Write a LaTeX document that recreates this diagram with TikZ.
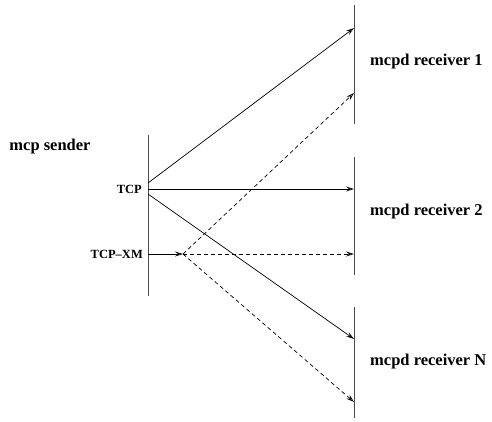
\documentclass[tikz,border=0pt]{standalone}
\usepackage{fontspec}
\setmainfont{Liberation Serif}
\usetikzlibrary{arrows.meta}
\begin{document}
\begin{tikzpicture}[x=1pt,y=-1pt,
  bar/.style={line width=1pt,draw=black!70},
  msg/.style={line width=0.7pt,-{Stealth[open,length=8pt,width=5pt,inset=3pt]}},
  dmsg/.style={msg,dash pattern=on 4pt off 3pt},
  biglbl/.style={font=\fontsize{16.5}{18}\selectfont\bfseries,inner sep=0pt},
  smalllbl/.style={font=\fontsize{12.5}{14}\selectfont\bfseries,inner sep=0pt}]
\useasboundingbox (0,0) rectangle (492,421);
% sender
\coordinate (s1) at (148,135);
\coordinate (s2) at (148,296);
\draw[bar] (s1) -- (s2);
\node[biglbl] (snd) at (50,147) {mcp sender};
\coordinate (tcpu) at (148,183);
\coordinate (tcp) at (148,189);
\coordinate (tcpd) at (148,194);
\coordinate (xm) at (148,254);
\coordinate (xmend) at (183,254);
\node[smalllbl,anchor=east] (tcplbl) at (142,189) {TCP};
\node[smalllbl,anchor=east] (xmlbl) at (143,254) {TCP–XM};
% receivers
\coordinate (r1a) at (354,5);
\coordinate (r1b) at (354,124);
\coordinate (r2a) at (354,157);
\coordinate (r2b) at (354,275);
\coordinate (r3a) at (354,307);
\coordinate (r3b) at (354,418);
\draw[bar] (r1a) -- (r1b);
\draw[bar] (r2a) -- (r2b);
\draw[bar] (r3a) -- (r3b);
\node[biglbl,anchor=west] (rl1) at (370,62) {mcpd receiver 1};
\node[biglbl,anchor=west] (rl2) at (370,212) {mcpd receiver 2};
\node[biglbl,anchor=west] (rl3) at (370,362) {mcpd receiver N};
\coordinate (t1) at (354,28);
\coordinate (t2) at (354,189);
\coordinate (t3) at (354,339);
\coordinate (d1) at (354,93);
\coordinate (d2) at (354,254);
\coordinate (d3) at (354,402);
% messages
\draw[msg] (tcpu) -- (t1);
\draw[msg] (tcp) -- (t2);
\draw[msg] (tcpd) -- (t3);
\draw[msg] (xm) -- (xmend);
\draw[dmsg] (xmend) -- (d1);
\draw[dmsg] (xmend) -- (d2);
\draw[dmsg] (xmend) -- (d3);
\end{tikzpicture}
\end{document}
